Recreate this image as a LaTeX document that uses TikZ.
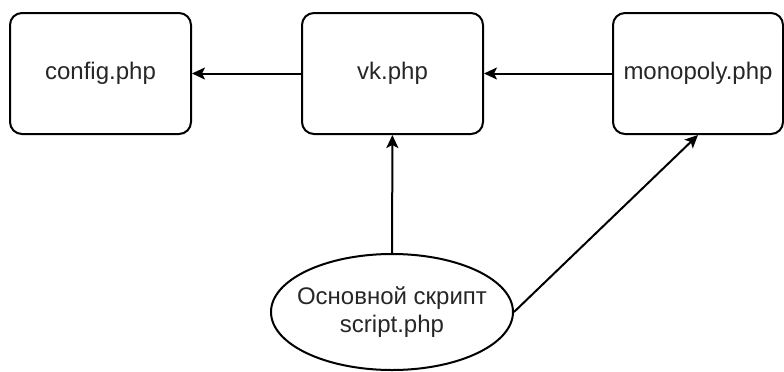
\documentclass[tikz,border=0pt]{standalone}
\usepackage{fontspec}
\setmainfont{Liberation Sans}
\usetikzlibrary{arrows.meta}
\usetikzlibrary{shapes.geometric}

\tikzset{
    filebox/.style={draw, line width=1pt, rounded corners=6pt, minimum width=90.5pt,
        minimum height=60.5pt, inner sep=0pt, font=\fontsize{12}{14.4}\selectfont, text=black!85},
    mainfile/.style={draw, ellipse, line width=1pt, minimum width=121pt, minimum height=58pt,
        inner xsep=-5pt, inner ysep=0pt, align=center, font=\fontsize{12}{14.4}\selectfont, text=black!85},
    link/.style={line width=1pt, -{Stealth[length=6.5pt, width=6pt, inset=1.5pt]}}
}

\begin{document}
\begin{tikzpicture}[x=0.5pt, y=-0.5pt]
\useasboundingbox (0,0) rectangle (784,371);
\node[filebox] (config) at (100.5, 73.5) {config.php};
\node[filebox] (vk) at (392.5, 73.5) {vk.php};
\node[filebox, minimum width=85pt] (monopoly) at (698, 73.5) {monopoly.php};
\node[mainfile] (script) at (392, 312) {Основной скрипт\\script.php};
\draw[link] (vk) -- (config);
\draw[link] (monopoly) -- (vk);
\draw[link] (script) -- (vk);
\draw[link] (script.east) -- (monopoly.south);
\end{tikzpicture}
\end{document}
